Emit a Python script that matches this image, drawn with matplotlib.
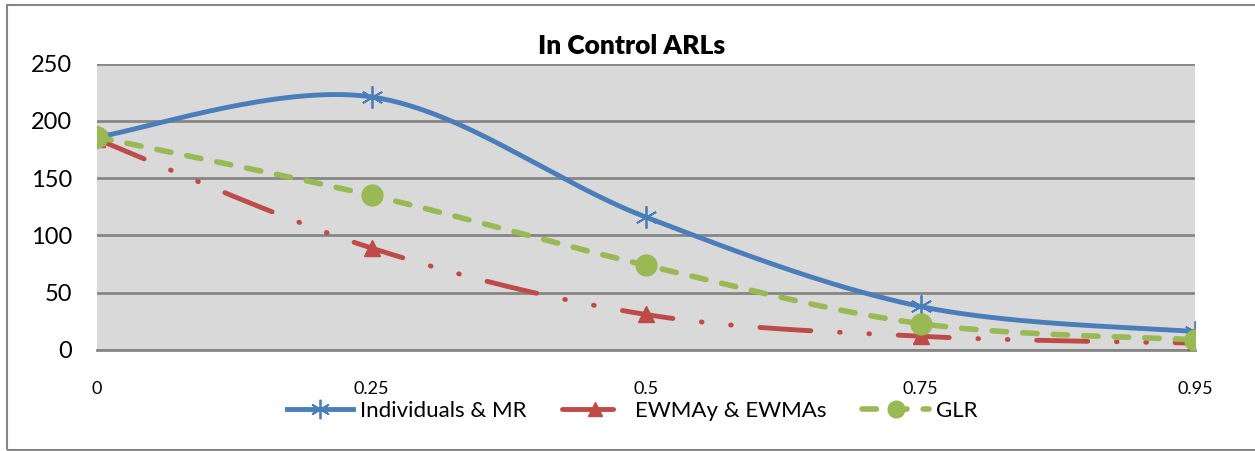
import numpy as np
import matplotlib.pyplot as plt
from matplotlib.patches import Rectangle
from matplotlib.lines import Line2D

categories = ["0", "0.25", "0.5", "0.75", "0.95"]
individuals_mr = [186, 221, 116, 38, 16]
ewma = [184, 89, 31, 12, 6]
glr = [186, 135, 74, 23, 9]

plt.rcParams['font.family'] = ['Lato', 'DejaVu Sans']


def excel_smooth(y, n=60):
    # Bezier smoothing like Excel's "smoothed line" (Catmull-Rom control points)
    x = np.arange(len(y), dtype=float)
    y = np.asarray(y, dtype=float)
    pts = np.column_stack([x, y])
    ext = np.vstack([pts[0], pts, pts[-1]])
    xs, ys = [], []
    t = np.linspace(0, 1, n)[:, None]
    for i in range(len(pts) - 1):
        p0 = ext[i + 1]
        p3 = ext[i + 2]
        c1 = p0 + (ext[i + 2] - ext[i]) / 6
        c2 = p3 - (ext[i + 3] - ext[i + 1]) / 6
        seg = (1 - t) ** 3 * p0 + 3 * (1 - t) ** 2 * t * c1 + 3 * (1 - t) * t ** 2 * c2 + t ** 3 * p3
        xs.append(seg[:, 0])
        ys.append(seg[:, 1])
    return np.concatenate(xs), np.concatenate(ys)


fig = plt.figure(figsize=(12.55, 4.51), dpi=100)
ax = fig.add_axes([97 / 1255, 1 - 350 / 451, (1195 - 97) / 1255, (350 - 63.7) / 451])
ax.set_facecolor('#D9D9D9')

blue = '#4A7EBB'
red = '#BE4B48'
green = '#98B954'
red_dash = (10.5, 5.9, 0.15, 5.9, 0.15, 5.9)
green_dash = (2.6, 2.9)

xi = np.arange(len(categories))

sx, sy = excel_smooth(individuals_mr)
ax.plot(sx, sy, color=blue, lw=3.5, solid_capstyle='round', zorder=3)
ax.plot(xi, individuals_mr, ls='none', marker=(6, 2, 0), ms=16, mec=blue, mew=1.3, zorder=4)

sx, sy = excel_smooth(ewma)
ax.plot(sx, sy, color=red, lw=3.5, dashes=red_dash, dash_capstyle='round', zorder=3)
ax.plot(xi, ewma, ls='none', marker='^', ms=11, color=red, zorder=4)

sx, sy = excel_smooth(glr)
ax.plot(sx, sy, color=green, lw=4, dashes=green_dash, dash_capstyle='round', zorder=3)
ax.plot(xi, glr, ls='none', marker='o', ms=15, color=green, zorder=5)

ax.set_xlim(0, len(categories) - 1)
ax.set_ylim(0, 250)
ax.set_yticks(np.arange(0, 251, 50))
ax.set_xticks(xi)
ax.set_xticklabels(categories, fontsize=13)
ax.tick_params(axis='y', labelsize=17, length=0, pad=18)
ax.tick_params(axis='x', length=0, pad=22)
ax.grid(axis='y', color='#868686', lw=2)
ax.set_axisbelow(True)
for s in ['left', 'right', 'top']:
    ax.spines[s].set_visible(False)
ax.spines['bottom'].set_color('#868686')
ax.spines['bottom'].set_linewidth(2)

ax.set_title("In Control ARLs", fontsize=19, fontweight='heavy', pad=7, x=535 / 1098)

handles = [
    Line2D([], [], color=blue, lw=3.5, marker=(6, 2, 0), ms=14, mec=blue, mew=1.3),
    Line2D([], [], color=red, lw=3.5, dashes=red_dash, dash_capstyle='round', marker='^', ms=10),
    Line2D([], [], color=green, lw=4, dashes=green_dash, dash_capstyle='round', marker='o', ms=12),
]
fig.legend(handles, ["Individuals & MR", "EWMAy & EWMAs", "GLR"], loc='center',
           bbox_to_anchor=(632 / 1255, 1 - 411 / 451), ncol=3, frameon=False,
           fontsize=16, handlelength=3, columnspacing=1.6, handletextpad=0.3)

fig.add_artist(Rectangle((7 / 1255, 1 / 451), 1.1, 445 / 451, transform=fig.transFigure,
                         fill=False, ec='#868686', lw=1.5))

fig.savefig('out.png', dpi=100)
